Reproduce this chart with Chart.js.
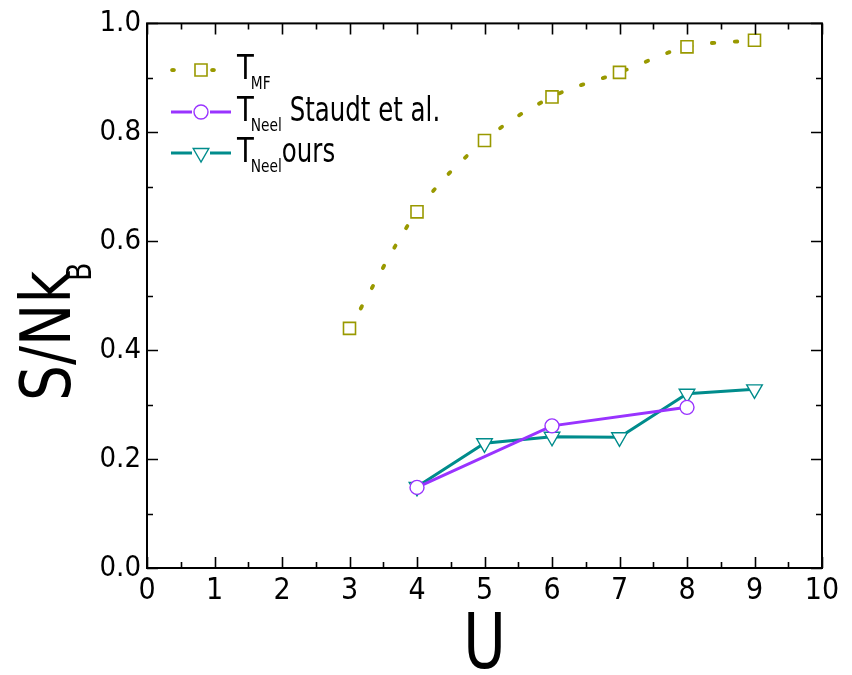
<!DOCTYPE html>
<html>
<head>
<meta charset="utf-8">
<script src="https://cdn.jsdelivr.net/npm/chart.js@4.4.1/dist/chart.umd.min.js"></script>
<style>
  html, body { margin: 0; padding: 0; background: #fff; }
  #wrap { width: 852px; height: 675px; }
</style>
</head>
<body>
<div id="wrap"><canvas id="entropyChart"></canvas></div>
<script>
// Entropy per site at the transition temperatures vs. interaction U
const uMF = [3, 4, 5, 6, 7, 8, 9];
const sMF = [0.440, 0.654, 0.785, 0.865, 0.910, 0.957, 0.969];

const uStaudt = [4, 6, 8];
const sStaudt = [0.148, 0.261, 0.295];

const uOurs = [4, 5, 6, 7, 8, 9];
const sOurs = [0.149, 0.229, 0.241, 0.240, 0.320, 0.328];

const xTicks = [0, 1, 2, 3, 4, 5, 6, 7, 8, 9, 10];
const yTicks = [0.0, 0.2, 0.4, 0.6, 0.8, 1.0];

const OLIVE = '#999900';
const PURPLE = '#9933ff';
const TEAL = '#008c8c';
const FONT = '"DejaVu Sans Condensed", "DejaVu Sans", sans-serif';

const toPoints = (xs, ys) => xs.map((x, i) => ({ x: x, y: ys[i] }));

// text squeezed horizontally, returns the drawn width
function narrowText(ctx, text, x, y, size, squeeze) {
    ctx.save();
    ctx.font = size + 'px ' + FONT;
    ctx.translate(x, y);
    ctx.scale(squeeze, 1);
    ctx.fillText(text, 0, 0);
    const w = ctx.measureText(text).width * squeeze;
    ctx.restore();
    return w;
}

// frame with inward ticks on all four sides, axis titles and the legend
const framePlugin = {
    id: 'frame',
    afterDraw(chart) {
        const ctx = chart.ctx;
        const a = chart.chartArea;
        const xs = chart.scales.x;
        const ys = chart.scales.y;
        ctx.save();
        ctx.strokeStyle = '#000';
        ctx.lineWidth = 2;
        ctx.strokeRect(a.left, a.top, a.right - a.left, a.bottom - a.top);

        ctx.lineWidth = 1.6;
        ctx.beginPath();
        for (let v = 0; v <= 10.001; v += 0.5) {
            const px = Math.round(xs.getPixelForValue(v)) + 0.5;
            const len = Math.abs(v - Math.round(v)) < 0.01 ? 11 : 6;
            ctx.moveTo(px, a.bottom); ctx.lineTo(px, a.bottom - len);
            ctx.moveTo(px, a.top); ctx.lineTo(px, a.top + len);
        }
        for (let i = 0; i <= 10; i++) {
            const v = i / 10;
            const py = Math.round(ys.getPixelForValue(v)) + 0.5;
            const len = i % 2 === 0 ? 11 : 6;
            ctx.moveTo(a.left, py); ctx.lineTo(a.left + len, py);
            ctx.moveTo(a.right, py); ctx.lineTo(a.right - len, py);
        }
        ctx.stroke();

        // axis titles
        ctx.fillStyle = '#000';
        ctx.textBaseline = 'alphabetic';
        ctx.textAlign = 'left';
        ctx.font = '76px ' + FONT;
        const wU = ctx.measureText('U').width * 0.85;
        narrowText(ctx, 'U', (a.left + a.right) / 2 - wU / 2, 668, 76, 0.85);

        ctx.translate(70, 401);
        ctx.rotate(-Math.PI / 2);
        narrowText(ctx, 'S/Nk', 0, 0, 70, 0.9);
        narrowText(ctx, 'B', 120, 21, 33, 0.9);
        ctx.restore();

        // legend
        const rows = [
            { ds: 0, y: 70, sub: 'MF', rest: '' },
            { ds: 1, y: 112, sub: 'Neel', rest: ' Staudt et al.' },
            { ds: 2, y: 153, sub: 'Neel', rest: 'ours' }
        ];
        const x0 = a.left + 24;
        const x1 = a.left + 84;
        const mx = (x0 + x1) / 2;
        rows.forEach(r => {
            const d = chart.data.datasets[r.ds];
            ctx.save();
            ctx.strokeStyle = d.borderColor;
            ctx.lineWidth = d.borderWidth;
            if (r.ds === 0) {
                ctx.fillStyle = d.borderColor;
                [x0 + 2, x1 - 18].forEach(dx => {
                    ctx.beginPath();
                    ctx.ellipse(dx, r.y, 2.8, 2.1, 0, 0, Math.PI * 2);
                    ctx.fill();
                });
            } else {
                ctx.beginPath();
                ctx.moveTo(x0, r.y); ctx.lineTo(mx - 9, r.y);
                ctx.moveTo(mx + 9, r.y); ctx.lineTo(x1, r.y);
                ctx.stroke();
            }
            ctx.fillStyle = '#fff';
            ctx.strokeStyle = d.pointBorderColor;
            ctx.lineWidth = d.pointBorderWidth;
            Chart.helpers.drawPoint(ctx, {
                pointStyle: d.pointStyle,
                radius: d.pointRadius,
                rotation: d.pointRotation || 0,
                borderWidth: d.pointBorderWidth
            }, mx, r.y);
            ctx.restore();

            ctx.save();
            ctx.fillStyle = '#000';
            ctx.textAlign = 'left';
            let tx = x1 + 6;
            tx += narrowText(ctx, 'T', tx, r.y + 9, 34, 0.9) - 3;
            tx += narrowText(ctx, r.sub, tx, r.y + 19, 18, 0.85);
            narrowText(ctx, r.rest, tx, r.y + 9, 34, 0.8);
            ctx.restore();
        });
    }
};

const ctx = document.getElementById('entropyChart').getContext('2d');
const chart = new Chart(ctx, {
    type: 'scatter',
    data: {
        datasets: [
            {
                label: 'T_MF',
                data: toPoints(uMF, sMF),
                showLine: true,
                borderColor: OLIVE,
                borderWidth: 3.8,
                borderDash: [2.5, 20.5],
                borderCapStyle: 'round',
                cubicInterpolationMode: 'monotone',
                pointStyle: 'rect',
                pointRadius: 8.5,
                pointBorderWidth: 1.6,
                pointBorderColor: OLIVE,
                pointBackgroundColor: '#fff'
            },
            {
                label: 'T_Neel Staudt et al.',
                data: toPoints(uStaudt, sStaudt),
                showLine: true,
                borderColor: PURPLE,
                borderWidth: 3,
                pointStyle: 'circle',
                pointRadius: 7,
                pointBorderWidth: 1.4,
                pointBorderColor: PURPLE,
                pointBackgroundColor: '#fff'
            },
            {
                label: 'T_Neel ours',
                data: toPoints(uOurs, sOurs),
                showLine: true,
                borderColor: TEAL,
                borderWidth: 3,
                pointStyle: 'triangle',
                pointRotation: 180,
                pointRadius: 9,
                pointBorderWidth: 1.4,
                pointBorderColor: TEAL,
                pointBackgroundColor: '#fff'
            }
        ]
    },
    options: {
        responsive: true,
        maintainAspectRatio: false,
        animation: false,
        layout: {
            padding: { top: 23, right: 30, left: 0, bottom: 0 }
        },
        plugins: {
            legend: { display: false },
            tooltip: { enabled: false }
        },
        scales: {
            x: {
                type: 'linear',
                min: 0,
                max: 10,
                afterBuildTicks: s => { s.ticks = xTicks.map(v => ({ value: v })); },
                afterFit: s => { s.height = 107; },
                grid: { display: false, drawTicks: false },
                border: { display: false },
                ticks: {
                    padding: 5,
                    color: '#000',
                    font: { family: FONT, size: 30 },
                    callback: v => String(v)
                }
            },
            y: {
                type: 'linear',
                min: 0,
                max: 1,
                afterBuildTicks: s => { s.ticks = yTicks.map(v => ({ value: v })); },
                afterFit: s => { s.width = 147; },
                grid: { display: false, drawTicks: false },
                border: { display: false },
                ticks: {
                    padding: 6,
                    color: '#000',
                    font: { family: FONT, size: 29 },
                    callback: v => v.toFixed(1)
                }
            }
        }
    },
    plugins: [framePlugin]
});
</script>
</body>
</html>
